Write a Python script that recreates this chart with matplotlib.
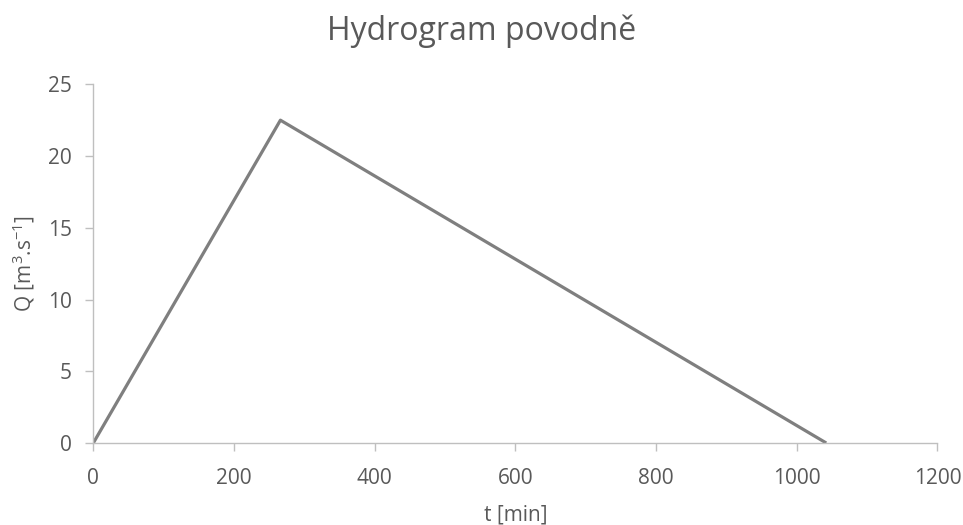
import matplotlib.pyplot as plt

# hydrogram data
t_min = [0, 266, 1042]
q_flow = [0, 22.5, 0]
x_ticks = [0, 200, 400, 600, 800, 1000, 1200]
y_ticks = [0, 5, 10, 15, 20, 25]

plt.rcParams['font.family'] = ['Open Sans', 'DejaVu Sans']
plt.rcParams['mathtext.default'] = 'regular'

text_col = '#595959'
axis_col = '#BFBFBF'

fig = plt.figure(figsize=(9.63, 5.25), dpi=100)
ax = fig.add_axes([0.0969, 0.1562, 0.8765, 0.6832])

ax.plot(t_min, q_flow, color='#7F7F7F', linewidth=2.3, solid_capstyle='butt')

ax.set_xlim(0, 1200)
ax.set_ylim(0, 25)
ax.set_xticks(x_ticks)
ax.set_yticks(y_ticks)

for side in ['top', 'right']:
    ax.spines[side].set_visible(False)
for side in ['left', 'bottom']:
    ax.spines[side].set_color(axis_col)
    ax.spines[side].set_linewidth(1.0)

ax.tick_params(axis='both', colors=axis_col, labelcolor=text_col, labelsize=15,
               length=5.5, width=1.0, direction='out')
ax.tick_params(axis='x', pad=12.5)
ax.tick_params(axis='y', pad=10)

ax.set_xlabel('t [min]', fontsize=15, color=text_col, labelpad=11)
ax.set_ylabel('Q [m$^3$.s$^{-1}$]', fontsize=15, color=text_col, labelpad=8)

fig.text(0.5, 1 - 40 / 525, 'Hydrogram povodně', ha='center', va='baseline',
         fontsize=23, color=text_col)

fig.savefig('out.png', dpi=100)
